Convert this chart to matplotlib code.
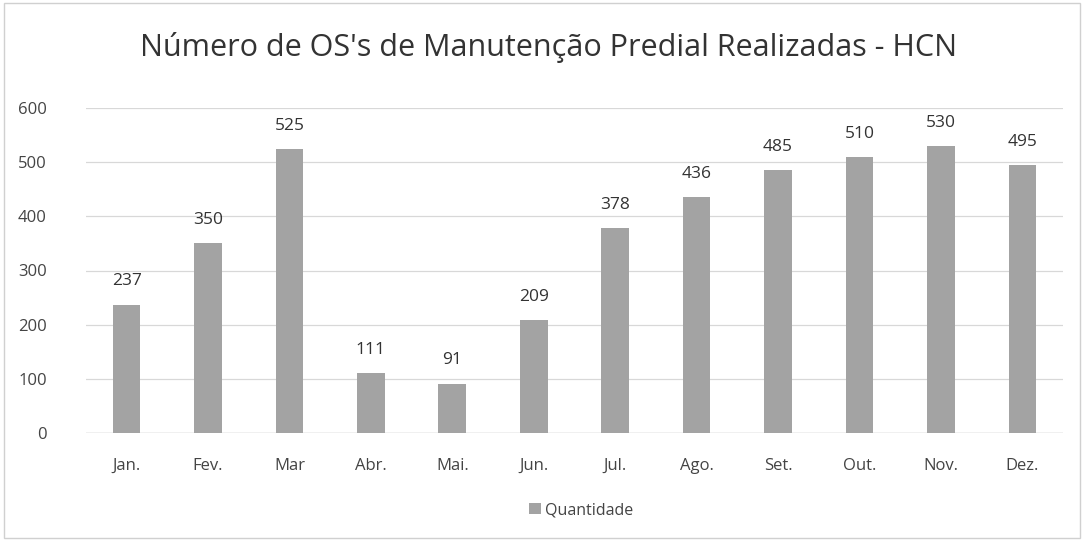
import matplotlib
matplotlib.use("Agg")
import matplotlib.pyplot as plt
from matplotlib.patches import Rectangle

months = ["Jan.", "Fev.", "Mar", "Abr.", "Mai.", "Jun.", "Jul.", "Ago.", "Set.", "Out.", "Nov.", "Dez."]
quantidade = [237, 350, 525, 111, 91, 209, 378, 436, 485, 510, 530, 495]
yticks = [0, 100, 200, 300, 400, 500, 600]

plt.rcParams['font.family'] = ['Open Sans', 'DejaVu Sans']

fig = plt.figure(figsize=(10.87, 5.41), dpi=100)
ax = fig.add_axes([0.079, 0.2, 0.899, 0.6])

x = list(range(len(months)))
bars = ax.bar(x, quantidade, width=0.34, color="#a3a3a3", label="Quantidade", zorder=3)
for xi, v in zip(x, quantidade):
    ax.text(xi, v + 28, str(v), ha="center", va="bottom", fontsize=12.5, color="#333333")

ax.set_xlim(-0.5, 11.5)
ax.set_ylim(0, 600)
ax.set_yticks(yticks)
ax.set_xticks(x)
ax.set_xticklabels(months)
ax.tick_params(axis="both", length=0, labelsize=12, colors="#444444")
ax.tick_params(axis="y", pad=28)
ax.tick_params(axis="x", pad=18)
ax.grid(axis="y", color="#d8d8d8", linewidth=0.9, zorder=0)
for s in ax.spines.values():
    s.set_visible(False)
ax.axhline(0, color="#c8c8c8", linewidth=1, zorder=2)

fig.text(0.505, 0.912, "Número de OS's de Manutenção Predial Realizadas - HCN",
         ha="center", va="center", fontsize=22, color="#333333")

leg = fig.legend(handles=[bars], labels=["Quantidade"], loc="center",
                 bbox_to_anchor=(0.535, 0.057), frameon=False, fontsize=11.5,
                 handlelength=0.7, handleheight=0.7, handletextpad=0.3)
for t in leg.get_texts():
    t.set_color("#444444")

fig.patches.append(Rectangle((0.004, 0.005), 0.99, 0.99, transform=fig.transFigure,
                             fill=False, edgecolor="#d0d0d0", linewidth=1))

fig.savefig("out.png", dpi=100)
